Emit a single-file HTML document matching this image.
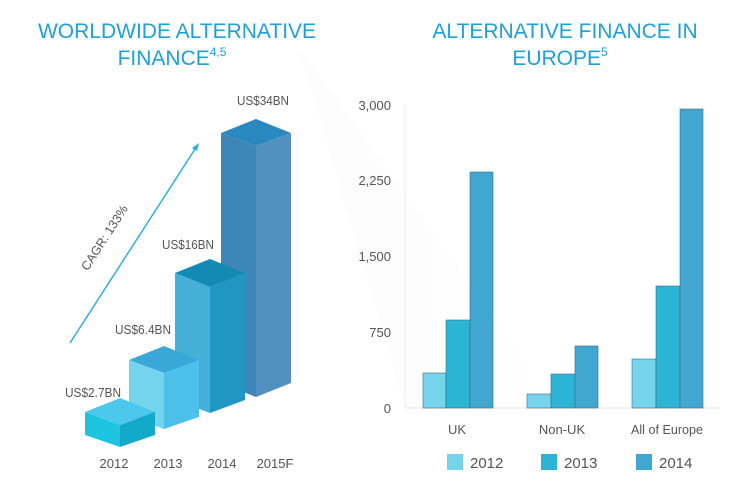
<!DOCTYPE html>
<html><head><meta charset="utf-8"><style>
html,body{margin:0;padding:0;background:#fff;}
svg{display:block;font-family:"Liberation Sans",sans-serif;}
</style></head><body>
<svg width="740" height="498" viewBox="0 0 740 498">
<defs><linearGradient id="g" x1="0" y1="0" x2="1" y2="0"><stop offset="0" stop-color="#f6f6f6"/><stop offset="1" stop-color="#fff"/></linearGradient></defs>
<polygon points="300,50 405,408 560,408" fill="url(#g)" opacity="0.35"/>
<g fill="#1ea0d8" font-size="21" text-anchor="middle">
<text x="177" y="38">WORLDWIDE ALTERNATIVE</text>
<text x="172" y="65">FINANCE<tspan font-size="12" dy="-9">4,5</tspan></text>
<text x="565" y="38">ALTERNATIVE FINANCE IN</text>
<text x="560" y="65">EUROPE<tspan font-size="12" dy="-9">5</tspan></text>
</g>
<polygon points="256,119 291,133 256,146 221,133" fill="#2a88c0"/>
<polygon points="221,133 256,146 256,397 221,383" fill="#3f86b8"/>
<polygon points="256,146 291,133 291,383 256,397" fill="#5290c0"/>
<polygon points="210,259 245,273 210,287 175,273" fill="#128ab4"/>
<polygon points="175,273 210,287 210,413 175,400" fill="#44b0d8"/>
<polygon points="210,287 245,273 245,400 210,413" fill="#2196c4"/>
<polygon points="164,346 199,360 164,373 129,360" fill="#38a8d8"/>
<polygon points="129,360 164,373 164,429 129,416" fill="#74d4ee"/>
<polygon points="164,373 199,360 199,417 164,429" fill="#4cc0ea"/>
<polygon points="120,398 155,412 120,425 85,412" fill="#4cc8ec"/>
<polygon points="85,412 120,425 120,447 85,435" fill="#1cc4e0"/>
<polygon points="120,425 155,412 155,435 120,447" fill="#12aac8"/>
<line x1="70" y1="343" x2="197" y2="146" stroke="#2ab0e0" stroke-width="1.5"/>
<polygon points="199,143 192,148 197,151" fill="#2ab0e0"/>
<text x="108" y="240" font-size="12.5" fill="#555" text-anchor="middle" transform="rotate(-57 108 240)">CAGR: 133%</text>
<g fill="#555" font-size="13" text-anchor="middle">
<text x="263" y="105" textLength="52" lengthAdjust="spacingAndGlyphs">US$34BN</text>
<text x="188" y="249" textLength="52" lengthAdjust="spacingAndGlyphs">US$16BN</text>
<text x="143" y="334" textLength="56" lengthAdjust="spacingAndGlyphs">US$6.4BN</text>
<text x="93" y="397" textLength="56" lengthAdjust="spacingAndGlyphs">US$2.7BN</text>
<text x="114" y="468">2012</text>
<text x="168" y="468">2013</text>
<text x="222" y="468">2014</text>
<text x="275" y="468">2015F</text>
</g>
<line x1="405" y1="105" x2="405" y2="408" stroke="#eee"/>
<line x1="405" y1="408" x2="720" y2="408" stroke="#eee" stroke-width="1.5"/>
<g fill="#555" font-size="13" text-anchor="end">
<text x="391" y="110">3,000</text>
<text x="391" y="185">2,250</text>
<text x="391" y="261">1,500</text>
<text x="391" y="337">750</text>
<text x="391" y="413">0</text>
</g>
<g stroke="#3a6f88" stroke-width="0.6">
<rect x="423" y="373" width="23" height="35" fill="#76d3ec"/>
<rect x="446" y="320" width="24" height="88" fill="#2cb4d4"/>
<rect x="470" y="172" width="23" height="236" fill="#41a6d0"/>
<rect x="527" y="394" width="24" height="14" fill="#76d3ec"/>
<rect x="551" y="374" width="24" height="34" fill="#2cb4d4"/>
<rect x="575" y="346" width="23" height="62" fill="#41a6d0"/>
<rect x="632" y="359" width="24" height="49" fill="#76d3ec"/>
<rect x="656" y="286" width="24" height="122" fill="#2cb4d4"/>
<rect x="680" y="109" width="23" height="299" fill="#41a6d0"/>
</g>
<g fill="#555" font-size="13" text-anchor="middle">
<text x="457" y="434">UK</text>
<text x="562" y="434">Non-UK</text>
<text x="667" y="434" textLength="72" lengthAdjust="spacingAndGlyphs">All of Europe</text>
</g>
<rect x="447" y="454" width="16" height="16" fill="#76d3ec"/>
<rect x="541" y="454" width="16" height="16" fill="#2cb4d4"/>
<rect x="636" y="454" width="16" height="16" fill="#41a6d0"/>
<g fill="#555" font-size="15">
<text x="470" y="468">2012</text>
<text x="564" y="468">2013</text>
<text x="659" y="468">2014</text>
</g>
</svg>
</body></html>
